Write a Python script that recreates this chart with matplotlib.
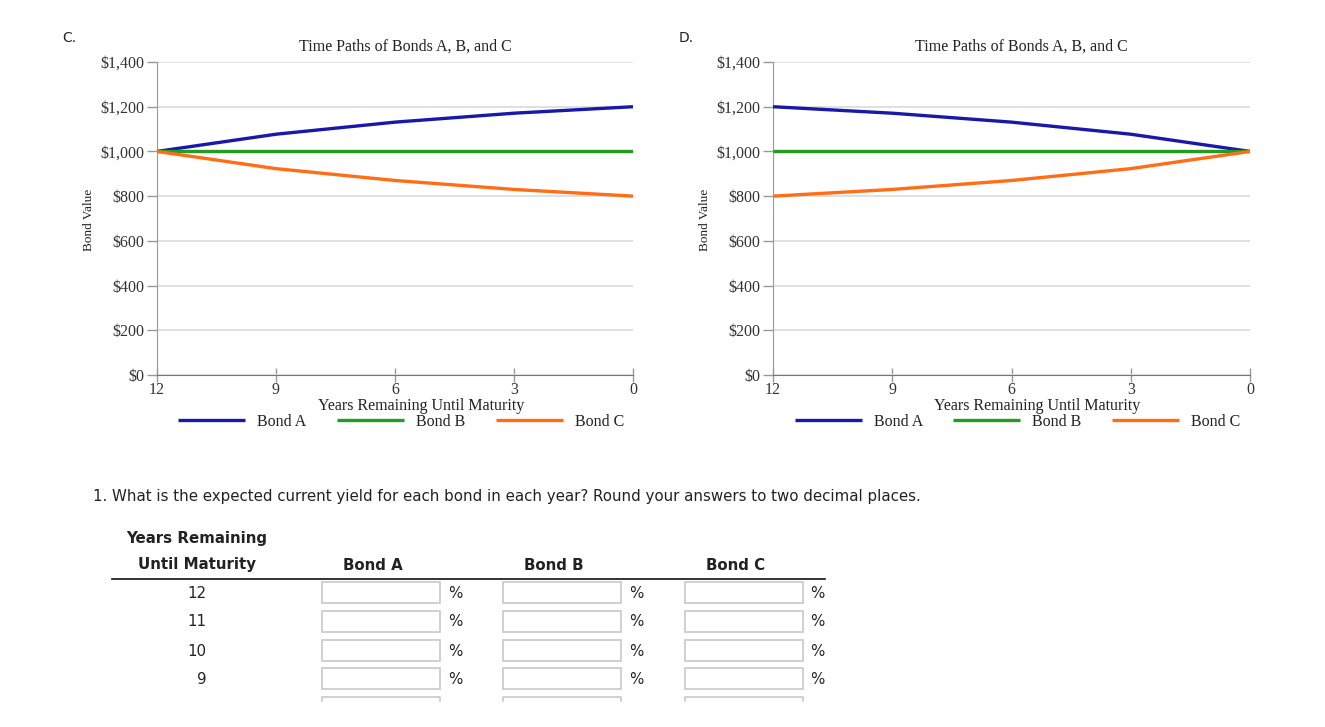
import matplotlib
matplotlib.use("Agg")
import matplotlib.pyplot as plt
from matplotlib.patches import Rectangle

# ---------------- data ----------------
years = [12, 9, 6, 3, 0]
c_bond_a = [1000, 1077, 1131, 1171, 1200]
c_bond_b = [1000, 1000, 1000, 1000, 1000]
c_bond_c = [1000, 923, 870, 830, 800]
d_bond_a = [1200, 1171, 1131, 1077, 1000]
d_bond_b = [1000, 1000, 1000, 1000, 1000]
d_bond_c = [800, 830, 870, 923, 1000]
y_ticks = [0, 200, 400, 600, 800, 1000, 1200, 1400]
y_tick_labels = ["$0", "$200", "$400", "$600", "$800", "$1,000", "$1,200", "$1,400"]
x_ticks = [12, 9, 6, 3, 0]
series_names = ["Bond A", "Bond B", "Bond C"]
panel_labels = ["C.", "D."]
chart_title = "Time Paths of Bonds A, B, and C"
x_title = "Years Remaining Until Maturity"
y_title = "Bond Value"
question = ("1. What is the expected current yield for each bond in each year? "
            "Round your answers to two decimal places.")
table_rows = ["12", "11", "10", "9"]
table_cols = ["Bond A", "Bond B", "Bond C"]

W, H = 1325, 727
fig = plt.figure(figsize=(W / 100, H / 100), dpi=100)
fig.patch.set_facecolor("white")

# overlay axes in pixel coordinates
ov = fig.add_axes([0, 0, 1, 1])
ov.set_xlim(0, W)
ov.set_ylim(H, 0)
ov.axis("off")

SERIF = ["Liberation Serif", "DejaVu Serif"]
SANS = ["DejaVu Sans"]
SANS_SIZE = 10.8
colors = ["#1818aa", "#1f9e1f", "#ff6e14"]


def ax_rect(l, r, t, b):
    return [l / W, 1 - b / H, (r - l) / W, (b - t) / H]


def draw_chart(left, right, series, plabel, plabel_x):
    ax = fig.add_axes(ax_rect(left, right, 62, 375))
    for vals, col, name in zip(series, colors, series_names):
        ax.plot(years, vals, color=col, lw=2.4, label=name, solid_capstyle="butt",
                zorder=3)
    ax.set_xlim(12, 0)
    ax.set_ylim(0, 1400)
    ax.set_yticks(y_ticks)
    ax.set_yticklabels(y_tick_labels, fontfamily=SERIF, fontsize=11.5, color="#333333")
    ax.set_xticks(x_ticks)
    ax.set_xticklabels([str(v) for v in x_ticks], fontfamily=SERIF, fontsize=11.5,
                       color="#333333")
    ax.tick_params(axis="y", direction="out", length=7, width=1, color="#999999", pad=2)
    ax.tick_params(axis="x", direction="inout", length=10, width=1, color="#999999", pad=0)
    ax.grid(axis="y", color="#dddddd", lw=1.3, zorder=0)
    for s in ["top", "right"]:
        ax.spines[s].set_visible(False)
    ax.spines["left"].set_color("#999999")
    ax.spines["bottom"].set_color("#777777")
    ax.set_facecolor("none")
    ax.set_axisbelow(True)
    cx = (left + right) / 2
    ov.text(cx + 10, 47, chart_title, fontfamily=SERIF, fontsize=11.5, ha="center",
            va="center", color="#222222")
    ov.text(cx + 26, 406, x_title, fontfamily=SERIF, fontsize=11.5, ha="center",
            va="center", color="#222222")
    ov.text(left - 68, 220, y_title, fontfamily=SERIF, fontsize=9.5, ha="center",
            va="center", rotation=90, color="#222222")
    ov.text(plabel_x, 38, plabel, fontfamily=SANS, fontsize=10, ha="left",
            va="center", color="#222222")
    leg = ax.legend(loc="center", bbox_to_anchor=((cx + 6) / W, 1 - 422 / H),
                    bbox_transform=fig.transFigure, ncol=3, frameon=False,
                    handlelength=4.2, handletextpad=0.75, columnspacing=1.9,
                    prop={"family": SERIF, "size": 11.5})
    for t in leg.get_texts():
        t.set_color("#222222")
    for h in leg.get_lines():
        h.set_linewidth(2.4)
    return ax


draw_chart(157, 633, [c_bond_a, c_bond_b, c_bond_c], panel_labels[0], 62)
draw_chart(773, 1250, [d_bond_a, d_bond_b, d_bond_c], panel_labels[1], 679)

# question text
ov.text(93, 497, question, fontfamily=SANS, fontsize=SANS_SIZE, ha="left", va="center",
        color="#222222")

# table header
ov.text(197, 539, "Years Remaining", fontfamily=SANS, fontweight="bold", fontsize=SANS_SIZE,
        ha="center", va="center", color="#222222")
ov.text(197, 565, "Until Maturity", fontfamily=SANS, fontweight="bold", fontsize=SANS_SIZE,
        ha="center", va="center", color="#222222")
col_box_left = [322, 503, 685]
col_pct_x = [455, 636, 817]
for name, bl in zip(table_cols, col_box_left):
    ov.text(bl + 51, 565, name, fontfamily=SANS, fontweight="bold", fontsize=SANS_SIZE,
            ha="center", va="center", color="#222222")
ov.plot([112, 825], [578.5, 578.5], color="#111111", lw=1.2)

row_tops = [581.5, 610.5, 639.5, 668]
box_w, box_h = 118, 21
for lab, top in zip(table_rows, row_tops):
    ov.text(206, top + box_h / 2 + 1, lab, fontfamily=SANS, fontsize=SANS_SIZE, ha="right",
            va="center", color="#222222")
    for bl, px in zip(col_box_left, col_pct_x):
        ov.add_patch(Rectangle((bl, top), box_w, box_h, facecolor="white",
                               edgecolor="#c8c8c8", lw=1.2))
        ov.text(px, top + box_h / 2 + 1, "%", fontfamily=SANS, fontsize=SANS_SIZE,
                ha="center", va="center", color="#222222")
# partially visible next row (cut off)
for bl in col_box_left:
    ov.plot([bl, bl, bl + box_w, bl + box_w], [701, 696.5, 696.5, 701],
            color="#c8c8c8", lw=1.2)

fig.savefig("out.png", dpi=100, facecolor="white")
